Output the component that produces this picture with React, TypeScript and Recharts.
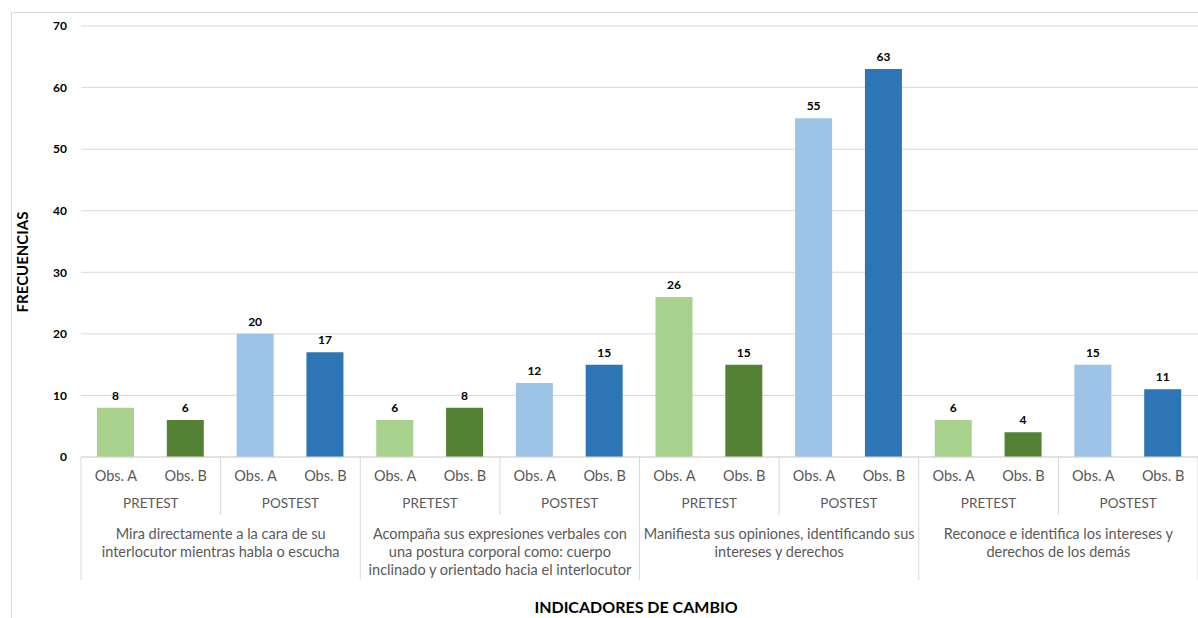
import { BarChart, Bar, XAxis, YAxis, CartesianGrid, Cell, LabelList } from 'recharts'

const obsLabels = ['Obs. A', 'Obs. B', 'Obs. A', 'Obs. B', 'Obs. A', 'Obs. B', 'Obs. A', 'Obs. B', 'Obs. A', 'Obs. B', 'Obs. A', 'Obs. B', 'Obs. A', 'Obs. B', 'Obs. A', 'Obs. B']
const phaseLabels = ['PRETEST', 'POSTEST', 'PRETEST', 'POSTEST', 'PRETEST', 'POSTEST', 'PRETEST', 'POSTEST']
const indicatorLines = [
  ['Mira directamente a la cara de su', 'interlocutor mientras habla o escucha'],
  ['Acompaña sus expresiones verbales con', 'una postura corporal como: cuerpo', 'inclinado y orientado hacia el interlocutor'],
  ['Manifiesta sus opiniones, identificando sus', 'intereses y derechos'],
  ['Reconoce e identifica los intereses y', 'derechos de los demás'],
]
const frecuencias = [8, 6, 20, 17, 6, 8, 12, 15, 26, 15, 55, 63, 6, 4, 15, 11]
const barColors = ['#a9d18e', '#548235', '#9dc3e6', '#2e75b6']
const yTicks = [0, 10, 20, 30, 40, 50, 60, 70]

const data = frecuencias.map((v, i) => ({ key: `c${i}`, obs: obsLabels[i], value: v }))

const W = 1198
const H = 618
const M = { top: 26, right: 0, left: 31, bottom: 33 }
const Y_AXIS_W = 50
const FONT = 'Lato, "Open Sans", sans-serif'
const GRID = '#d9d9d9'
const TXT = '#595959'

const bandHalf = (W - M.left - M.right - Y_AXIS_W) / frecuencias.length / 2

function CategoryTick(props: any) {
  const { x, y, index } = props
  const half = props.payload?.offset || bandHalf
  const left = x - half
  const out: any[] = []
  out.push(
    <text key="o" x={x} y={y + 20} textAnchor="middle" dominantBaseline="middle" fontSize={14.5} fill={TXT} fontFamily={FONT}>
      {obsLabels[index]}
    </text>
  )
  if (index % 2 === 1) {
    out.push(
      <text key="p" x={left} y={y + 48} textAnchor="middle" dominantBaseline="middle" fontSize={13.5} fill={TXT} fontFamily={FONT}>
        {phaseLabels[(index - 1) / 2]}
      </text>
    )
  }
  if (index % 2 === 0) {
    const len = index % 4 === 0 ? 123 : 58
    out.push(<line key="s" x1={left} x2={left} y1={y} y2={y + len} stroke={GRID} />)
  }
  if (index === frecuencias.length - 1) {
    out.push(<line key="e" x1={x + half} x2={x + half} y1={y} y2={y + 123} stroke={GRID} />)
  }
  if (index % 4 === 3) {
    const cx = x - half * 3
    const lines = indicatorLines[(index - 3) / 4]
    lines.forEach((l, k) => {
      out.push(
        <text key={`g${k}`} x={cx} y={y + 78 + k * 18} textAnchor="middle" dominantBaseline="middle" fontSize={14.5} fill={TXT} fontFamily={FONT}>
          {l}
        </text>
      )
    })
  }
  return <g>{out}</g>
}

export default function App() {
  return (
    <div style={{ position: 'absolute', left: 0, top: 0, width: W, height: H, background: '#fff', overflow: 'hidden' }}>
      <div style={{ position: 'absolute', left: 11, top: 12, width: W, height: H, border: `1px solid ${GRID}` }} />
      <div style={{ position: 'absolute', left: 0, top: 0 }}>
        <BarChart width={W} height={H} data={data} margin={M} barSize={37}>
          <CartesianGrid vertical={false} stroke={GRID} />
          <XAxis
            dataKey="key"
            height={128}
            interval={0}
            tickLine={false}
            tickSize={0}
            tickMargin={0}
            axisLine={{ stroke: GRID }}
            tick={<CategoryTick />}
          />
          <YAxis
            width={Y_AXIS_W}
            domain={[0, 70]}
            ticks={yTicks}
            axisLine={false}
            tickLine={false}
            tickSize={0}
            tickMargin={14}
            tick={{ fontSize: 12, fontWeight: 700, fill: '#000', fontFamily: FONT }}
          />
          <Bar dataKey="value" isAnimationActive={false}>
            {data.map((d, i) => (
              <Cell key={d.key} fill={barColors[i % 4]} />
            ))}
            <LabelList dataKey="value" position="top" offset={8} fill="#000" fontSize={12} fontWeight={700} fontFamily={FONT} />
          </Bar>
        </BarChart>
      </div>
      <div style={{ position: 'absolute', left: 22, top: 262, transform: 'translate(-50%, -50%) rotate(-90deg)', fontFamily: FONT, fontWeight: 700, fontSize: 15, color: '#000', whiteSpace: 'nowrap' }}>
        FRECUENCIAS
      </div>
      <div style={{ position: 'absolute', left: 636, top: 606, transform: 'translate(-50%, -50%)', fontFamily: FONT, fontWeight: 700, fontSize: 16, color: '#000', whiteSpace: 'nowrap' }}>
        INDICADORES DE CAMBIO
      </div>
    </div>
  )
}
